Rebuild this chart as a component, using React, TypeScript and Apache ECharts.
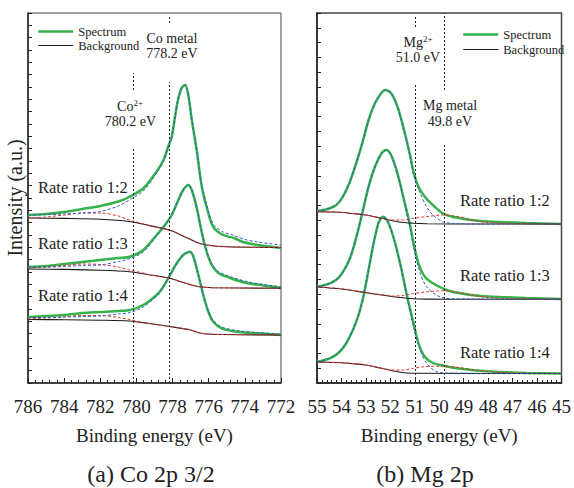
import React, { useEffect, useRef } from 'react';
import * as echarts from 'echarts';

const FONT = "'Liberation Serif', 'Times New Roman', serif";
const GREEN = '#36b24b';
const RED = '#e5322d';
const BLUE = '#2f5fb8';
const BLACK = '#1a1a1a';

// ---- (a) Co 2p 3/2 : [binding energy (eV), intensity (a.u.)] ----
const coSpectrum12 = [[786,168],[785,169],[784,171],[783,174],[782,177],[781,181.5],[780.4,186],[779.6,195],[778.9,211],[778.5,223],[778.25,236],[778.05,246],[777.85,268],[777.7,283],[777.5,295],[777.3,298],[777.13,288],[776.95,265],[776.65,231],[776.4,198],[776.1,175],[775.75,156],[775.2,148],[774.6,145],[774.1,141],[773.3,138],[772,135]];
const coBackground12 = [[786,165],[784,164.6],[782,163.8],[780.4,161.5],[779.3,157.5],[778.1,152.5],[777.6,148.5],[777,143.5],[776.5,139.5],[775.8,137.3],[775,136.3],[772,135.5]];
const coCo2Fit12 = [[786,165],[785,166],[784,168],[783,170],[782,170],[781,167],[780.4,163],[779.5,158.5],[779.3,157.5],[778.1,152.5],[777.6,148.5],[777,143.5],[776.5,139.5],[775.8,137.3],[775,136.3],[772,135.5]];
const coMetalFit12 = [[786,168],[785,168.5],[784,169],[783,170],[782,171.5],[781,177],[780.4,183],[779.6,192.5],[778.9,209.5],[778.5,222],[778.25,236],[778.05,246],[777.85,268],[777.7,283],[777.5,295],[777.3,298],[777.13,288],[776.95,265],[776.65,231],[776.4,199],[776.1,177],[775.75,159],[775.2,151],[774.6,147.5],[774.1,144],[773.3,141],[772,138]];

const coSpectrum13 = [[786,116],[785,117],[784,119],[783,121],[782,123],[781,125],[780.36,126.3],[779.62,133],[778.88,148],[778.42,158],[778.05,168],[777.68,183],[777.41,193],[777.13,198],[776.94,193],[776.66,175],[776.39,151],[776.11,131],[775.83,118],[775.47,110],[774.82,105],[773.9,100],[772.98,97.5],[772,95]];
const coBackground13 = [[786,114],[784,113.6],[782,112.8],[780.4,111.3],[779.3,108.3],[778.1,104.5],[777.6,101.5],[777,98.3],[776.5,96.2],[775.8,95.3],[772,94.7]];
const coCo2Fit13 = [[786,115],[785,116],[784,117.5],[783,119],[782,118.5],[781,116],[780.4,113],[779.5,109.5],[779.3,108.3],[778.1,104.5],[777.6,101.5],[777,98.3],[776.5,96.2],[775.8,95.3],[772,94.7]];
const coMetalFit13 = [[786,116],[785,116],[784,116.5],[783,117.5],[782,118],[781,121.5],[780.36,124.5],[779.62,131],[778.88,147],[778.42,158],[778.05,168],[777.68,183],[777.41,193],[777.13,198],[776.94,193],[776.66,175],[776.39,151],[776.11,132],[775.83,119.5],[775.47,111.5],[774.82,106.5],[773.9,101.5],[772.98,98.5],[772,96.3]];

const coSpectrum14 = [[786,66],[785,67],[784,68],[783,70],[782,71],[781,72],[780.36,73],[779.62,78],[778.88,88],[778.51,96.3],[778.14,108],[777.77,119.7],[777.41,128],[777.03,131.3],[776.85,126.3],[776.57,108],[776.3,88],[776.02,71.3],[775.75,61.3],[775.28,54.7],[774.45,51.3],[773.34,49.7],[772,48]];
const coBackground14 = [[786,63.5],[784,63.2],[782,62.8],[780.4,62],[779.3,59.5],[778.1,56.3],[777,53],[776.5,50],[775.8,48.7],[772,48]];
const coCo2Fit14 = [[786,64],[785,65],[784,66],[783,67.5],[782,67.5],[781,65.5],[780.4,63.5],[779.5,60],[779.3,59.5],[778.1,56.3],[777,53],[776.5,50],[775.8,48.7],[772,48]];
const coMetalFit14 = [[786,65.5],[785,65.5],[784,66],[783,66.5],[782,67],[781,69],[780.36,70.5],[779.62,76],[778.88,87],[778.51,96],[778.14,108],[777.77,119.7],[777.41,128],[777.03,131.3],[776.85,126.3],[776.57,108],[776.3,88],[776.02,72],[775.75,62.5],[775.28,56],[774.45,52.5],[773.34,50.5],[772,49]];

// ---- (b) Mg 2p ----
const mgSpectrum12 = [[55,172],[54.6,173.7],[54.21,178],[53.94,186.3],[53.68,199.7],[53.42,218],[53.15,239.7],[52.89,263],[52.63,279.7],[52.36,290.3],[52.21,293],[51.97,289.7],[51.71,276.3],[51.44,253],[51.18,226.3],[51.05,211],[50.85,196.3],[50.59,186.3],[50.26,178],[49.86,169.7],[49.47,166.3],[48.68,163],[48.3,162],[47.5,161],[46.45,160],[45,159]];
const mgBackground12 = [[55,171.3],[54,170.8],[53.68,169.7],[53.02,168],[52.36,164.7],[51.71,161.3],[51.05,159.7],[50.5,159.2],[48.68,159],[45,159]];
const mgMetalFit12 = [[55,171.3],[54,170.6],[53,168],[52.4,165],[51.9,163],[51.45,163],[51.05,164.7],[50.55,166.3],[49.86,168],[49.2,166.3],[48.68,163],[48,160.5],[47,159.3],[45,159]];
const mgMg2Fit12 = [[55,172],[54.6,173.7],[54.21,178],[53.94,186.3],[53.68,199.7],[53.42,218],[53.15,239.7],[52.89,263],[52.63,279.7],[52.36,290.3],[52.21,293],[51.97,289.7],[51.71,276.3],[51.44,252],[51.18,225],[51.05,208],[50.78,189.7],[50.52,176.3],[50.26,168],[49.86,161.3],[49.47,159.7],[48.7,159],[45,159]];

const mgSpectrum13 = [[55,96.3],[54.47,99.7],[54.08,106.3],[53.68,123],[53.42,143],[53.15,169.7],[52.89,196.3],[52.63,216.3],[52.36,229.7],[52.17,233],[51.97,228],[51.71,209.7],[51.44,183],[51.18,156.3],[51.05,139.7],[50.85,119.7],[50.59,106.3],[50.26,99.7],[49.86,94.7],[49.47,91.3],[48.68,88],[48.3,87],[47.5,86],[46.45,85],[45,84]];
const mgBackground13 = [[55,96],[54,94],[53.68,93],[53.02,90.3],[52.36,88],[51.71,85.7],[51.05,84.3],[50.5,83.9],[48.68,83.7],[45,83.7]];
const mgMetalFit13 = [[55,96],[54,94.3],[53,90.5],[52.4,88.5],[51.9,87],[51.45,87.5],[51.05,89.5],[50.55,91],[49.86,92.3],[49.2,90.5],[48.68,88],[48,85.5],[47,84.2],[45,83.7]];
const mgMg2Fit13 = [[55,96.3],[54.47,99.7],[54.08,106.3],[53.68,123],[53.42,143],[53.15,169.7],[52.89,196.3],[52.63,216.3],[52.36,229.7],[52.17,233],[51.97,228],[51.71,209.7],[51.44,182],[51.18,154],[51.05,136.3],[50.78,109.7],[50.52,96.3],[50.13,88],[49.73,84.7],[48.7,84],[45,83.7]];

const mgSpectrum14 = [[55,21.3],[54.47,24.7],[54.08,31],[53.8,40],[53.55,52],[53.3,68],[53.09,88],[52.9,112],[52.7,138],[52.5,159],[52.4,164],[52.3,166.3],[52.1,161.3],[51.84,143],[51.57,116.3],[51.31,86.3],[51.05,59.7],[50.85,39.7],[50.59,26.3],[50.26,20],[49.86,17.5],[49.47,15.5],[48.68,13],[48.3,12.2],[47.5,11],[46.45,10],[45,9.5]];
const mgBackground14 = [[55,21],[54,20.3],[53.68,19.7],[53.02,18],[52.36,14.7],[51.71,11.3],[51.05,9.7],[45,9.5]];
const mgMetalFit14 = [[55,21],[54,20.3],[53,18],[52.4,15],[51.9,13],[51.45,13],[51.05,14.7],[50.55,16.5],[49.86,16.8],[49.2,15.5],[48.68,13.5],[48,11.5],[47,10],[45,9.5]];
const mgMg2Fit14 = [[55,21.3],[54.47,24.7],[54.08,31],[53.8,40],[53.55,52],[53.3,68],[53.09,88],[52.9,112],[52.7,138],[52.5,159],[52.4,164],[52.3,166.3],[52.1,161.3],[51.84,143],[51.57,116],[51.31,85],[51.05,56],[50.78,33],[50.52,19.7],[50.13,11.5],[49.73,10],[45,9.5]];

// reference energies (eV)
const coRefEnergies = [780.2, 778.2];
const mgRefEnergies = [51.0, 49.8];
const sampleLabels = ['Rate ratio 1:2', 'Rate ratio 1:3', 'Rate ratio 1:4'];

function spectrum(data: number[][], idx: number) {
  return { type: 'line', name: 'Spectrum', xAxisIndex: idx, yAxisIndex: idx, data, symbol: 'none', smooth: 0.3, z: 2,
    lineStyle: { color: GREEN, width: 2.5 }, itemStyle: { color: GREEN } };
}
function background(data: number[][], idx: number, markLine?: any) {
  const s: any = { type: 'line', name: 'Background', xAxisIndex: idx, yAxisIndex: idx, data, symbol: 'none', smooth: 0.3, z: 3,
    lineStyle: { color: BLACK, width: 1.1 }, itemStyle: { color: BLACK } };
  if (markLine) s.markLine = markLine;
  return s;
}
function fit(name: string, data: number[][], idx: number, color: string, z: number) {
  return { type: 'line', name, xAxisIndex: idx, yAxisIndex: idx, data, symbol: 'none', smooth: 0.3, z,
    lineStyle: { color, width: 1, type: [3, 2] }, itemStyle: { color } };
}
function refLines(segs: [number, number, number][]) {
  return {
    silent: true, symbol: ['none', 'none'], label: { show: false },
    lineStyle: { color: '#222', width: 1, type: [2, 2] },
    data: segs.map(([x, a, b]) => [{ coord: [x, a] }, { coord: [x, b] }]),
  };
}

const axisText = { fontFamily: FONT, color: '#222' };

function xAxis(idx: number, min: number, max: number, interval: number) {
  return {
    type: 'value', gridIndex: idx, min, max, interval, inverse: true,
    name: 'Binding energy (eV)', nameLocation: 'middle', nameGap: 43,
    nameTextStyle: { ...axisText, fontSize: 19 },
    axisLine: { lineStyle: { color: '#222', width: 1.5 } },
    axisTick: { inside: true, length: 5, lineStyle: { color: '#222' } },
    minorTick: { show: true, splitNumber: 5, length: 3, lineStyle: { color: '#222' } },
    axisLabel: { ...axisText, fontSize: 19, margin: 14 },
    splitLine: { show: false },
  };
}
function yAxis(idx: number, interval: number, name?: string) {
  return {
    type: 'value', gridIndex: idx, min: 0, max: 370, interval,
    name: name || '', nameLocation: 'middle', nameGap: 3,
    nameTextStyle: { ...axisText, fontSize: 20 },
    axisLine: { show: true, lineStyle: { color: '#222', width: 1.5 } },
    axisTick: { show: true, inside: true, length: 4, lineStyle: { color: '#222' } },
    axisLabel: { show: false },
    splitLine: { show: false },
  };
}

function txt(text: string, x: number, y: number, size: number, align = 'center', rich?: any) {
  return { type: 'text', x, y, silent: true,
    style: { text, fontFamily: FONT, fontSize: size, fill: '#222', align, verticalAlign: 'middle', rich } };
}
const supRich = {
  b: { fontFamily: FONT, fontSize: 14, fill: '#222', lineHeight: 16 },
  s: { fontFamily: FONT, fontSize: 9, fill: '#222', verticalAlign: 'top', lineHeight: 9 },
};

const legendBase = {
  orient: 'vertical', padding: 0, itemWidth: 35, itemHeight: 14,
  data: ['Spectrum', 'Background'], selectedMode: false,
  textStyle: { fontFamily: FONT, fontSize: 12.5, color: '#222' },
  lineStyle: { width: 'inherit' },
  itemStyle: { opacity: 0 },
};

const option: any = {
  animation: false,
  backgroundColor: '#fff',
  textStyle: { fontFamily: FONT },
  grid: [
    { left: 28, top: 13, width: 253, height: 370, show: true, borderColor: '#444', borderWidth: 1 },
    { left: 317, top: 13, width: 253, height: 370, show: true, borderColor: '#444', borderWidth: 1.5 },
  ],
  xAxis: [xAxis(0, 772, 786, 2), xAxis(1, 45, 55, 1)],
  yAxis: [yAxis(0, 370 / 30, 'Intensity (a.u.)'), yAxis(1, 370 / 25)],
  legend: [
    { ...legendBase, left: 37, top: 25, itemGap: 1 },
    { ...legendBase, left: 462, top: 28, itemGap: 2 },
  ],
  series: [
    spectrum(coSpectrum12, 0), spectrum(coSpectrum13, 0), spectrum(coSpectrum14, 0),
    background(coBackground12, 0, refLines([
      [coRefEnergies[0], 0, 236], [coRefEnergies[0], 293, 310],
      [coRefEnergies[1], 0, 301], [coRefEnergies[1], 360, 366],
    ])),
    background(coBackground13, 0), background(coBackground14, 0),
    fit('Co2+ fit', coCo2Fit12, 0, RED, 4), fit('Co2+ fit', coCo2Fit13, 0, RED, 4), fit('Co2+ fit', coCo2Fit14, 0, RED, 4),
    fit('Co metal fit', coMetalFit12, 0, BLUE, 5), fit('Co metal fit', coMetalFit13, 0, BLUE, 5), fit('Co metal fit', coMetalFit14, 0, BLUE, 5),

    spectrum(mgSpectrum12, 1), spectrum(mgSpectrum13, 1), spectrum(mgSpectrum14, 1),
    background(mgBackground12, 1, refLines([
      [mgRefEnergies[0], 0, 298], [mgRefEnergies[0], 356, 368],
      [mgRefEnergies[1], 0, 238], [mgRefEnergies[1], 293, 370],
    ])),
    background(mgBackground13, 1), background(mgBackground14, 1),
    fit('Mg metal fit', mgMetalFit12, 1, RED, 4), fit('Mg metal fit', mgMetalFit13, 1, RED, 4), fit('Mg metal fit', mgMetalFit14, 1, RED, 4),
    fit('Mg2+ fit', mgMg2Fit12, 1, BLUE, 5), fit('Mg2+ fit', mgMg2Fit13, 1, BLUE, 5), fit('Mg2+ fit', mgMg2Fit14, 1, BLUE, 5),
  ],
  graphic: [
    txt('Co metal', 172, 38, 14), txt('778.2 eV', 172, 53, 14),
    txt('{b|Co}{s|2+}', 130, 106, 14, 'center', supRich), txt('780.2 eV', 130.5, 121, 14),
    txt('{b|Mg}{s|2+}', 418, 42, 14, 'center', supRich), txt('51.0 eV', 418, 57, 14),
    txt('Mg metal', 450, 105, 14), txt('49.8 eV', 450, 121, 14),
    txt(sampleLabels[0], 38, 187, 16.5, 'left'), txt(sampleLabels[1], 38, 243, 16.5, 'left'), txt(sampleLabels[2], 38, 295, 16.5, 'left'),
    txt(sampleLabels[0], 460, 200, 16.5, 'left'), txt(sampleLabels[1], 460, 275, 16.5, 'left'), txt(sampleLabels[2], 460, 352, 16.5, 'left'),
    txt('(a) Co 2p 3/2', 151, 474, 24), txt('(b) Mg 2p', 425, 474, 24),
  ],
};

export default function App() {
  const ref = useRef<HTMLDivElement>(null);
  useEffect(() => {
    const chart = echarts.init(ref.current as HTMLDivElement, null, { renderer: 'svg' });
    chart.setOption(option);
    return () => chart.dispose();
  }, []);
  return <div ref={ref} style={{ position: 'fixed', left: 0, top: 0, width: 574, height: 488, background: '#fff' }} />;
}
